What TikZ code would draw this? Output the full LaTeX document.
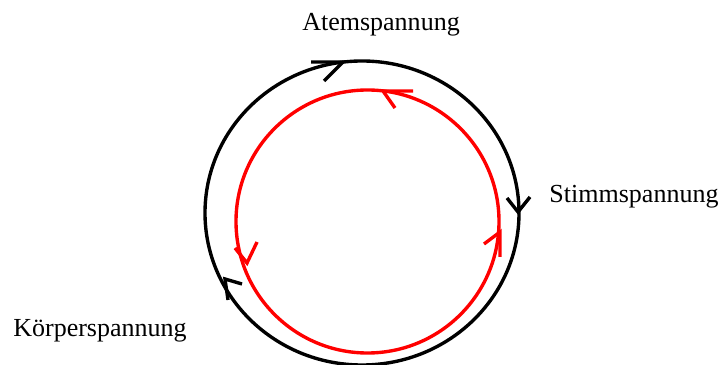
\documentclass[tikz,border=0pt]{standalone}
\usepackage{fontspec}
\setmainfont{Liberation Serif}
\usetikzlibrary{calc}

\begin{document}
\begin{tikzpicture}[
    x=0.025cm, y=0.025cm,
    ring/.style={line width=2.4pt},
    inner ring/.style={line width=2.4pt, red},
    barb/.style={line width=2.4pt, line join=miter},
    lbl/.style={anchor=base, inner sep=0pt, font=\fontsize{18.5}{22}\selectfont}
]
\useasboundingbox (0,0) rectangle (720,365);

\coordinate (bc) at (362,152);
\coordinate (rc) at (367.5,143.5);

% the two rings
\draw[ring] (bc) ellipse [x radius=157, y radius=152];
\draw[inner ring] (rc) circle [radius=131.5];

% labels
\node[lbl] (atem) at (381,334) {Atemspannung};
\node[lbl] (stimm) at (634,162) {Stimmspannung};
\node[lbl] (koerper) at (100,28) {Körperspannung};

% arrow tips, outer ring (clockwise)
\coordinate (b1) at (343,303);
\coordinate (b2) at (518,153);
\coordinate (b3) at (225,86);
\draw[barb] (b1) ++(-32,0) -- (b1) -- ++(-19,-19);
\draw[barb] (b2) ++(-11,14) -- (b2) -- ++(12,15);
\draw[barb] (b3) ++(17,-5) -- (b3) -- ++(3,-21);

% arrow tips, inner ring (counter-clockwise)
\coordinate (r1) at (383,274);
\coordinate (r2) at (500,133);
\coordinate (r3) at (247,102);
\draw[barb, red] (r1) ++(30,0) -- (r1) -- ++(12,-17);
\draw[barb, red] (r2) ++(0,-25) -- (r2) -- ++(-16,-12);
\draw[barb, red] (r3) ++(10,21) -- (r3) -- ++(-12,15);
\end{tikzpicture}
\end{document}
